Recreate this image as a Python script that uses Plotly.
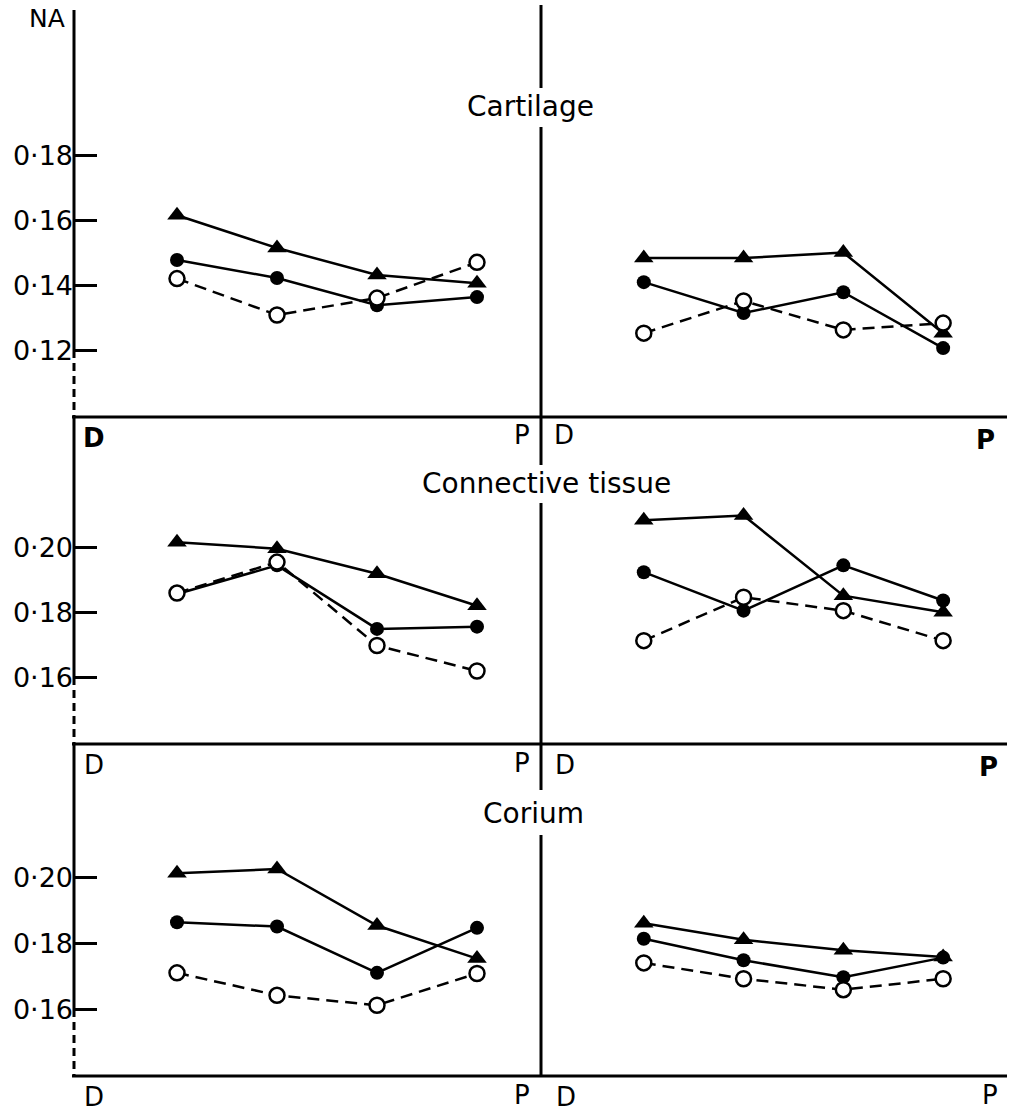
import plotly.graph_objects as go

W, H = 1013, 1113
FONT = "DejaVu Sans"

# ---- data (site index along D -> P) ----
sites = [1, 2, 3, 4]

cart_left_tri = [0.1615, 0.1514, 0.1431, 0.1406]
cart_left_fill = [0.1477, 0.1422, 0.1338, 0.1363]
cart_left_open = [0.1420, 0.1308, 0.1360, 0.1470]
cart_right_tri = [0.1483, 0.1483, 0.1500, 0.1252]
cart_right_fill = [0.1409, 0.1314, 0.1378, 0.1206]
cart_right_open = [0.1252, 0.1351, 0.1262, 0.1283]

conn_left_tri = [0.2015, 0.1995, 0.1918, 0.1820]
conn_left_fill = [0.1856, 0.1944, 0.1749, 0.1756]
conn_left_open = [0.1859, 0.1954, 0.1698, 0.1620]
conn_right_tri = [0.2082, 0.2097, 0.1851, 0.1800]
conn_right_fill = [0.1923, 0.1805, 0.1944, 0.1836]
conn_right_open = [0.1713, 0.1846, 0.1805, 0.1713]

cor_left_tri = [0.2012, 0.2025, 0.1854, 0.1754]
cor_left_fill = [0.1864, 0.1851, 0.1711, 0.1847]
cor_left_open = [0.1711, 0.1643, 0.1613, 0.1709]
cor_right_tri = [0.1861, 0.1811, 0.1779, 0.1759]
cor_right_fill = [0.1814, 0.1749, 0.1698, 0.1757]
cor_right_open = [0.1741, 0.1693, 0.1660, 0.1693]

row_titles = ["Cartilage", "Connective tissue", "Corium"]
row1_ticks = [0.12, 0.14, 0.16, 0.18]
row23_ticks = [0.16, 0.18, 0.20]
y_label = "NA"

panels = [
    (cart_left_tri, cart_left_fill, cart_left_open),
    (cart_right_tri, cart_right_fill, cart_right_open),
    (conn_left_tri, conn_left_fill, conn_left_open),
    (conn_right_tri, conn_right_fill, conn_right_open),
    (cor_left_tri, cor_left_fill, cor_left_open),
    (cor_right_tri, cor_right_fill, cor_right_open),
]


# ---- layout helpers (pixel -> paper) ----
def px(x):
    return x / W


def py(y):
    return 1 - y / H


AX_L, AX_M, AX_R = 74, 541, 1007
row_px = [(5, 417), (417, 744), (744, 1076)]
row_ranges = [(0.0994, 0.2262), (0.1396, 0.2399), (0.1399, 0.2403)]
row_ticks = [row1_ticks, row23_ticks, row23_ticks]
x_range = [-0.03, 4.64]

fig = go.Figure()
layout = dict(
    width=W, height=H, margin=dict(l=0, r=0, t=0, b=0),
    paper_bgcolor="white", plot_bgcolor="white", showlegend=False,
    font=dict(family=FONT, color="black"),
)

for k, (tri, fill, opn) in enumerate(panels):
    idx = k + 1
    row = k // 2
    col = k % 2
    xa = "x" if idx == 1 else f"x{idx}"
    ya = "y" if idx == 1 else f"y{idx}"
    top, bot = row_px[row]
    xd = [px(AX_L), px(AX_M)] if col == 0 else [px(AX_M), px(AX_R)]
    layout["xaxis" if idx == 1 else f"xaxis{idx}"] = dict(
        domain=xd, range=x_range, anchor=ya, showgrid=False, zeroline=False,
        showline=False, showticklabels=False, ticks="", fixedrange=True,
    )
    yax = dict(
        domain=[py(bot), py(top)], range=list(row_ranges[row]), anchor=xa,
        showgrid=False, zeroline=False, showline=False, fixedrange=True,
    )
    if col == 0:
        tv = row_ticks[row]
        yax.update(
            tickvals=tv, ticktext=[f"{v:.2f}".replace(".", "·") for v in tv],
            ticks="inside", ticklen=23, tickwidth=2.5, tickcolor="black",
            tickfont=dict(family=FONT, size=27, color="black"),
        )
    else:
        yax.update(showticklabels=False, ticks="")
    layout["yaxis" if idx == 1 else f"yaxis{idx}"] = yax

    fig.add_trace(go.Scatter(
        x=sites, y=tri, xaxis=xa, yaxis=ya, mode="lines+markers",
        line=dict(color="black", width=2.5),
        marker=dict(symbol="triangle-up", size=17, color="black"),
    ))
    fig.add_trace(go.Scatter(
        x=sites, y=fill, xaxis=xa, yaxis=ya, mode="lines+markers",
        line=dict(color="black", width=2.5),
        marker=dict(symbol="circle", size=14, color="black"),
    ))
    fig.add_trace(go.Scatter(
        x=sites, y=opn, xaxis=xa, yaxis=ya, mode="lines+markers",
        line=dict(color="black", width=2.5, dash="12px,7px"),
        marker=dict(symbol="circle", size=15, color="white",
                    line=dict(color="black", width=2.5)),
    ))

fig.update_layout(**layout)

# ---- frame lines ----
shapes = []


def seg(x0, y0, x1, y1, w=3, dash="solid"):
    shapes.append(dict(type="line", xref="paper", yref="paper",
                       x0=px(x0), y0=py(y0), x1=px(x1), y1=py(y1),
                       line=dict(color="black", width=w, dash=dash)))


# left axis: solid down to lowest tick, dashed below it
seg(AX_L, 10, AX_L, 350)
seg(AX_L, 350, AX_L, 417, w=3, dash="8px,5px")
seg(AX_L, 417, AX_L, 677)
seg(AX_L, 677, AX_L, 744, w=3, dash="8px,5px")
seg(AX_L, 744, AX_L, 1009)
seg(AX_L, 1009, AX_L, 1076, w=3, dash="8px,5px")
# middle divider with gaps for titles
seg(AX_M, 5, AX_M, 88)
seg(AX_M, 127, AX_M, 465)
seg(AX_M, 503, AX_M, 790)
seg(AX_M, 835, AX_M, 1076)
# baselines
for _, b in row_px:
    seg(72, b, AX_R, b)

fig.update_layout(shapes=shapes)

# ---- text ----
ann = []


def txt(s, x, y, size=26):
    ann.append(dict(text=s, x=px(x), y=py(y), xref="paper", yref="paper",
                    showarrow=False, xanchor="center", yanchor="middle",
                    font=dict(family=FONT, size=size, color="black")))


txt(y_label, 47, 19, 25)
txt(row_titles[0], 530, 106, 28)
txt(row_titles[1], 546, 483, 28)
txt(row_titles[2], 533, 813, 28)

txt("<b>D</b>", 94, 438)
txt("P", 522, 435)
txt("D", 564, 435)
txt("<b>P</b>", 985, 440)

txt("D", 94, 765)
txt("P", 522, 763)
txt("D", 565, 765)
txt("<b>P</b>", 988, 767)

txt("D", 94, 1097)
txt("P", 522, 1095)
txt("D", 566, 1097)
txt("P", 990, 1095)

fig.update_layout(annotations=ann)

fig.write_html("out.html")
